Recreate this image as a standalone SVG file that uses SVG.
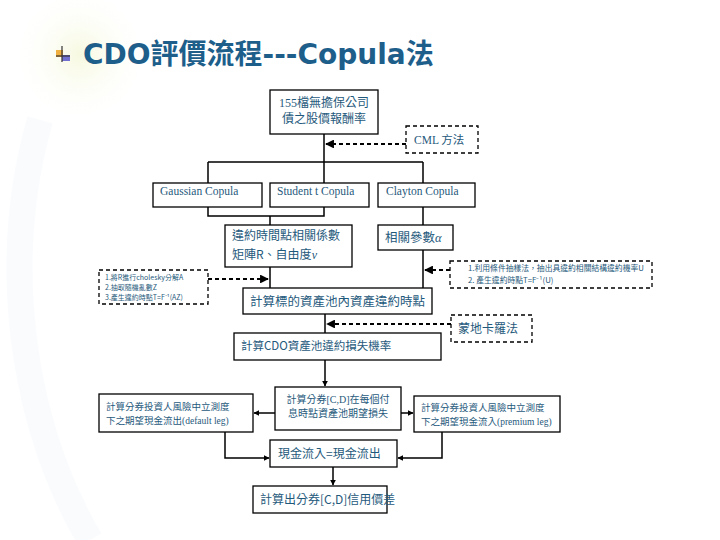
<svg xmlns="http://www.w3.org/2000/svg" width="720" height="540" viewBox="0 0 720 540">
<defs>
<marker id="ah" viewBox="0 0 10 10" refX="9" refY="5" markerWidth="4" markerHeight="4" orient="auto" markerUnits="strokeWidth"><path d="M0,0 L10,5 L0,10 z" fill="#000"/></marker>
<radialGradient id="glow" cx="0.5" cy="0.5" r="0.5"><stop offset="0" stop-color="#f6f8dc" stop-opacity="0.9"/><stop offset="1" stop-color="#ffffff" stop-opacity="0"/></radialGradient>
<style>
.box{fill:#fff;stroke:#000;stroke-width:1.3}
.dbox{fill:#fff;stroke:#000;stroke-width:1.3;stroke-dasharray:4 3}
.ln{fill:none;stroke:#000;stroke-width:1.5}
.dln{fill:none;stroke:#000;stroke-width:2.2;stroke-dasharray:4 3}
.t{font-family:"Liberation Serif","Noto Sans CJK TC",serif;fill:#1f5a7c}
.s{font-family:"Noto Sans CJK TC","Liberation Sans",sans-serif;fill:#1f5a7c}
</style>
</defs>
<rect width="720" height="540" fill="#fff"/>
<circle cx="80" cy="55" r="70" fill="url(#glow)"/>
<path d="M40,120 C0,260 20,420 90,540" fill="none" stroke="#f3f8fb" stroke-width="26" opacity="0.5"/>
<g id="title">
<rect x="56" y="50" width="7" height="7" fill="#f0b040"/>
<rect x="62" y="55" width="8" height="6" fill="#7070d0"/>
<line x1="62" y1="46" x2="62" y2="62" stroke="#333" stroke-width="1.2"/>
<line x1="56" y1="56" x2="70" y2="56" stroke="#333" stroke-width="1.2"/>
<text x="83" y="64" font-family="'DejaVu Sans','Noto Sans CJK TC',sans-serif" font-weight="bold" font-size="28" fill="#1d5e8a">CDO評價流程---Copula法</text>
</g>
<g id="connectors">
<path class="ln" d="M324,134 V162 M208,162 H423 M208,162 V183 M324,162 V183 M423,162 V183"/>
<path class="ln" d="M208,207 V216 H324 V207 M270,216 V225"/>
<path class="ln" d="M423,207 V225"/>
<path class="ln" d="M270,267 V288"/>
<path class="ln" d="M423,250 V288"/>
<path class="ln" d="M325,314 V333"/>
<path class="ln" d="M325,360 V386" marker-end="url(#ah)"/>
<path class="ln" d="M275,413 H254" marker-end="url(#ah)"/>
<path class="ln" d="M401,413 H413" marker-end="url(#ah)"/>
<path class="ln" d="M225,432 V458 H269" marker-end="url(#ah)"/>
<path class="ln" d="M442,432 V458 H398" marker-end="url(#ah)"/>
<path class="ln" d="M333,467 V485" marker-end="url(#ah)"/>
<path class="dln" d="M406,144 H326" marker-end="url(#ah)"/>
<path class="dln" d="M208,279 H268" marker-end="url(#ah)"/>
<path class="dln" d="M450,270 H425" marker-end="url(#ah)"/>
<path class="dln" d="M451,324 H327" marker-end="url(#ah)"/>
</g>
<g id="n_stock">
<rect class="box" x="270" y="90" width="108" height="44"/>
<text class="t" x="324" y="107" font-size="12" text-anchor="middle">155檔無擔保公司</text>
<text class="t" x="324" y="123" font-size="12" text-anchor="middle">債之股價報酬率</text>
</g>
<g id="n_cml">
<rect class="dbox" x="406" y="126" width="72" height="27"/>
<text class="t" x="414" y="144" font-size="11.5">CML 方法</text>
</g>
<g id="n_gauss">
<rect class="box" x="153" y="183" width="109" height="24"/>
<text class="t" x="160" y="195" font-size="11.5">Gaussian Copula</text>
</g>
<g id="n_student">
<rect class="box" x="270" y="183" width="99" height="24"/>
<text class="t" x="277" y="195" font-size="11.5">Student t Copula</text>
</g>
<g id="n_clayton">
<rect class="box" x="378" y="183" width="97" height="24"/>
<text class="t" x="386" y="195" font-size="11.5">Clayton Copula</text>
</g>
<g id="n_corr">
<rect class="box" x="225" y="225" width="127" height="42"/>
<text class="s" x="232" y="240" font-size="12">違約時間點相關係數</text>
<text class="s" x="232" y="259" font-size="12">矩陣R、自由度<tspan font-family="'Liberation Serif',serif" font-style="italic">ν</tspan></text>
</g>
<g id="n_alpha">
<rect class="box" x="378" y="225" width="75" height="25"/>
<text class="s" x="385" y="242" font-size="12.5">相關參數<tspan font-family="'Liberation Serif',serif" font-style="italic">α</tspan></text>
</g>
<g id="n_leftnote">
<rect class="dbox" x="99" y="270" width="109" height="34"/>
<text class="s" x="105" y="280" font-size="7">1.將R進行cholesky分解A</text>
<text class="s" x="105" y="290" font-size="7">2.抽取隨機亂數Z</text>
<text class="s" x="105" y="300" font-size="7">3.產生違約時點T=F⁻¹(AZ)</text>
</g>
<g id="n_rightnote">
<rect class="dbox" x="450" y="261" width="202" height="27"/>
<text class="s" x="468" y="271" font-size="7.8">1.利用條件抽樣法，抽出具違約相關結構違約機率U</text>
<text class="s" x="468" y="283" font-size="7.8">2. 產生違約時點T=F⁻¹(U)</text>
</g>
<g id="n_default">
<rect class="box" x="243" y="288" width="189" height="26"/>
<text class="s" x="250" y="306" font-size="12.5">計算標的資產池內資產違約時點</text>
</g>
<g id="n_mc">
<rect class="dbox" x="451" y="315" width="81" height="27"/>
<text class="s" x="458" y="333" font-size="12">蒙地卡羅法</text>
</g>
<g id="n_loss">
<rect class="box" x="234" y="333" width="207" height="27"/>
<text class="s" x="241" y="350" font-size="11.5">計算CDO資產池違約損失機率</text>
</g>
<g id="n_out">
<rect class="box" x="99" y="394" width="154" height="38"/>
<text class="t" x="106" y="410" font-size="9.5">計算分券投資人風險中立測度</text>
<text class="t" x="106" y="424" font-size="9.5">下之期望現金流出(default leg)</text>
</g>
<g id="n_exloss">
<rect class="box" x="275" y="387" width="126" height="43"/>
<text class="t" x="338" y="403" font-size="10" text-anchor="middle">計算分券[C,D]在每個付</text>
<text class="t" x="338" y="417" font-size="10" text-anchor="middle">息時點資產池期望損失</text>
</g>
<g id="n_in">
<rect class="box" x="414" y="396" width="146" height="36"/>
<text class="t" x="421" y="411" font-size="9.5">計算分券投資人風險中立測度</text>
<text class="t" x="421" y="425" font-size="9.5">下之期望現金流入(premium leg)</text>
</g>
<g id="n_eq">
<rect class="box" x="270" y="440" width="127" height="27"/>
<text class="s" x="278" y="458" font-size="12">現金流入=現金流出</text>
</g>
<g id="n_spread">
<rect class="box" x="253" y="486" width="134" height="27"/>
<text class="s" x="260" y="504" font-size="12">計算出分券[C,D]信用價差</text>
</g>
</svg>
